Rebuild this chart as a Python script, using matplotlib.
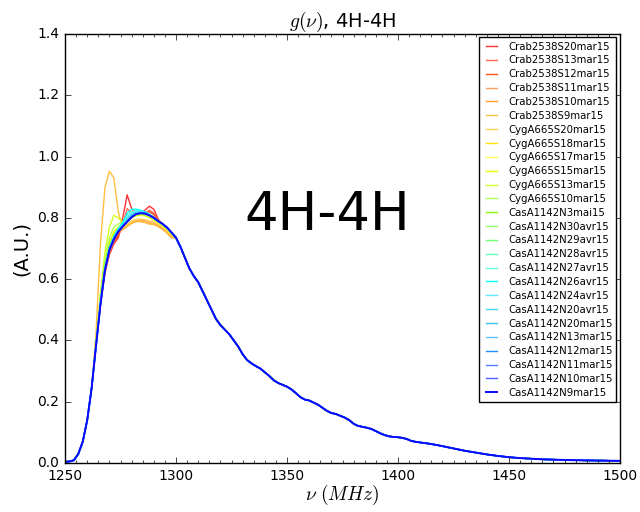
import matplotlib
matplotlib.use('Agg')
import matplotlib.pyplot as plt
from matplotlib.ticker import MultipleLocator

plt.style.use('classic')
plt.rcParams['figure.facecolor'] = 'white'
plt.rcParams['savefig.facecolor'] = 'white'

# shared rising edge (MHz, A.U.)
freq_rise = [1250, 1252, 1254, 1256, 1258, 1260, 1262]
g_rise = [0.004, 0.005, 0.009, 0.03, 0.07, 0.14, 0.245]

# peak region, different for every observation
freq_peak = [1264, 1266, 1268, 1270, 1272, 1274, 1276, 1278, 1280,
             1282, 1284, 1286, 1288, 1290, 1292, 1294, 1296, 1298]

# shared falling tail
freq_tail = [1300, 1302, 1304, 1306, 1308, 1310, 1312, 1314, 1316, 1318,
             1320, 1322, 1324, 1326, 1328, 1330, 1332, 1334, 1336, 1338,
             1340, 1342, 1344, 1346, 1348, 1350, 1352, 1354, 1356, 1358,
             1360, 1362, 1364, 1366, 1368, 1370, 1372, 1374, 1376, 1378,
             1380, 1382, 1384, 1386, 1388, 1390, 1392, 1394, 1396, 1398,
             1400, 1402, 1404, 1406, 1408, 1410, 1414, 1418, 1422, 1426,
             1430, 1435, 1440, 1445, 1450, 1455, 1460, 1465, 1470, 1475,
             1480, 1490, 1500]
g_tail = [0.735, 0.705, 0.67, 0.635, 0.61, 0.59, 0.56, 0.53, 0.50, 0.47,
          0.45, 0.435, 0.42, 0.40, 0.38, 0.355, 0.336, 0.325, 0.316, 0.308,
          0.296, 0.284, 0.27, 0.261, 0.255, 0.249, 0.24, 0.228, 0.215, 0.207,
          0.204, 0.197, 0.19, 0.18, 0.17, 0.163, 0.16, 0.154, 0.148, 0.14,
          0.128, 0.121, 0.118, 0.115, 0.111, 0.104, 0.097, 0.091, 0.087, 0.085,
          0.084, 0.082, 0.078, 0.072, 0.069, 0.067, 0.063, 0.058, 0.052, 0.046,
          0.040, 0.034, 0.028, 0.023, 0.019, 0.016, 0.014, 0.012, 0.011, 0.010,
          0.009, 0.008, 0.007]

labels = ['Crab2538S20mar15', 'Crab2538S13mar15', 'Crab2538S12mar15',
          'Crab2538S11mar15', 'Crab2538S10mar15', 'Crab2538S9mar15',
          'CygA665S20mar15', 'CygA665S18mar15', 'CygA665S17mar15',
          'CygA665S15mar15', 'CygA665S13mar15', 'CygA665S10mar15',
          'CasA1142N3mai15', 'CasA1142N30avr15', 'CasA1142N29avr15',
          'CasA1142N28avr15', 'CasA1142N27avr15', 'CasA1142N26avr15',
          'CasA1142N24avr15', 'CasA1142N20avr15', 'CasA1142N20mar15',
          'CasA1142N13mar15', 'CasA1142N12mar15', 'CasA1142N11mar15',
          'CasA1142N10mar15', 'CasA1142N9mar15']
colors = ['#ff3030', '#ff6a55', '#ff5020', '#ffa060', '#ffa020', '#ffc040',
          '#ffd050', '#ffe000', '#ffff50', '#f0ff00', '#d0ff20', '#b0ff50',
          '#80ff00', '#90ff70', '#70ff70', '#60ffb0', '#60ffe0', '#00ffff',
          '#60e8ff', '#40d8ff', '#40c0ff', '#60c0ff', '#2090ff', '#5080ff',
          '#5060ff', '#0a0aff']

peaks = [
    [0.385, 0.52, 0.62, 0.68, 0.715, 0.735, 0.80, 0.875, 0.83, 0.812, 0.815, 0.825, 0.838, 0.828, 0.795, 0.78, 0.768, 0.752],
    [0.385, 0.52, 0.625, 0.685, 0.72, 0.745, 0.78, 0.83, 0.815, 0.81, 0.812, 0.815, 0.825, 0.815, 0.79, 0.778, 0.765, 0.75],
    [0.385, 0.52, 0.625, 0.69, 0.725, 0.74, 0.775, 0.81, 0.81, 0.81, 0.81, 0.812, 0.82, 0.81, 0.79, 0.778, 0.765, 0.75],
    [0.39, 0.525, 0.635, 0.70, 0.735, 0.755, 0.765, 0.775, 0.785, 0.79, 0.792, 0.79, 0.785, 0.782, 0.776, 0.768, 0.755, 0.738],
    [0.39, 0.53, 0.64, 0.705, 0.74, 0.755, 0.762, 0.772, 0.782, 0.788, 0.788, 0.785, 0.78, 0.778, 0.772, 0.762, 0.75, 0.735],
    [0.43, 0.72, 0.90, 0.952, 0.93, 0.82, 0.765, 0.775, 0.785, 0.79, 0.79, 0.785, 0.78, 0.78, 0.775, 0.765, 0.75, 0.735],
    [0.39, 0.53, 0.645, 0.71, 0.745, 0.76, 0.768, 0.778, 0.79, 0.795, 0.796, 0.794, 0.79, 0.787, 0.78, 0.77, 0.758, 0.742],
    [0.39, 0.53, 0.645, 0.71, 0.745, 0.765, 0.78, 0.795, 0.805, 0.81, 0.81, 0.808, 0.802, 0.795, 0.785, 0.775, 0.763, 0.747],
    [0.39, 0.53, 0.64, 0.71, 0.745, 0.765, 0.778, 0.79, 0.80, 0.806, 0.808, 0.806, 0.80, 0.793, 0.784, 0.775, 0.763, 0.747],
    [0.39, 0.535, 0.65, 0.72, 0.755, 0.77, 0.78, 0.792, 0.802, 0.808, 0.81, 0.808, 0.802, 0.795, 0.786, 0.776, 0.764, 0.748],
    [0.40, 0.56, 0.69, 0.77, 0.808, 0.80, 0.785, 0.79, 0.80, 0.808, 0.81, 0.808, 0.802, 0.795, 0.786, 0.776, 0.764, 0.748],
    [0.395, 0.545, 0.665, 0.735, 0.77, 0.78, 0.785, 0.795, 0.805, 0.81, 0.812, 0.81, 0.804, 0.796, 0.787, 0.777, 0.765, 0.749],
    [0.39, 0.53, 0.645, 0.71, 0.745, 0.765, 0.778, 0.792, 0.805, 0.812, 0.815, 0.813, 0.807, 0.799, 0.788, 0.778, 0.766, 0.75],
    [0.39, 0.53, 0.64, 0.705, 0.742, 0.763, 0.778, 0.793, 0.806, 0.813, 0.815, 0.813, 0.807, 0.799, 0.788, 0.778, 0.766, 0.75],
    [0.388, 0.527, 0.638, 0.703, 0.74, 0.762, 0.779, 0.797, 0.81, 0.817, 0.818, 0.815, 0.808, 0.80, 0.789, 0.779, 0.767, 0.751],
    [0.387, 0.525, 0.637, 0.702, 0.738, 0.762, 0.78, 0.80, 0.815, 0.822, 0.822, 0.818, 0.81, 0.80, 0.79, 0.78, 0.768, 0.752],
    [0.387, 0.525, 0.637, 0.702, 0.738, 0.763, 0.782, 0.806, 0.82, 0.824, 0.823, 0.819, 0.811, 0.801, 0.79, 0.78, 0.768, 0.752],
    [0.387, 0.525, 0.637, 0.702, 0.74, 0.765, 0.785, 0.815, 0.828, 0.828, 0.825, 0.82, 0.812, 0.802, 0.79, 0.78, 0.768, 0.752],
    [0.386, 0.523, 0.634, 0.70, 0.736, 0.76, 0.778, 0.80, 0.816, 0.822, 0.821, 0.817, 0.81, 0.80, 0.789, 0.779, 0.767, 0.751],
    [0.386, 0.522, 0.633, 0.699, 0.735, 0.758, 0.776, 0.795, 0.81, 0.818, 0.819, 0.816, 0.809, 0.80, 0.789, 0.779, 0.767, 0.751],
    [0.386, 0.522, 0.632, 0.698, 0.733, 0.757, 0.775, 0.792, 0.807, 0.815, 0.817, 0.815, 0.809, 0.80, 0.789, 0.779, 0.767, 0.751],
    [0.385, 0.521, 0.631, 0.697, 0.732, 0.756, 0.774, 0.79, 0.805, 0.814, 0.816, 0.815, 0.808, 0.80, 0.789, 0.779, 0.767, 0.751],
    [0.385, 0.52, 0.63, 0.696, 0.731, 0.756, 0.773, 0.789, 0.804, 0.813, 0.816, 0.815, 0.808, 0.80, 0.789, 0.78, 0.768, 0.752],
    [0.385, 0.52, 0.63, 0.695, 0.73, 0.755, 0.772, 0.788, 0.803, 0.812, 0.815, 0.814, 0.808, 0.80, 0.789, 0.78, 0.768, 0.752],
    [0.385, 0.52, 0.63, 0.695, 0.73, 0.755, 0.772, 0.787, 0.802, 0.812, 0.815, 0.814, 0.808, 0.80, 0.789, 0.78, 0.768, 0.752],
    [0.385, 0.52, 0.63, 0.695, 0.73, 0.755, 0.772, 0.787, 0.802, 0.812, 0.815, 0.814, 0.808, 0.80, 0.789, 0.78, 0.768, 0.752],
]

fig = plt.figure(figsize=(6.4, 5.12), dpi=100)
ax = fig.add_axes([0.1016, 0.0957, 0.8672, 0.838])

freq = freq_rise + freq_peak + freq_tail
for i in range(len(labels)):
    g = g_rise + peaks[i] + g_tail
    lw = 1.4 if i == len(labels) - 1 else 1.0
    ax.plot(freq, g, color=colors[i], linewidth=lw, label=labels[i])

ax.set_xlim(1250, 1500)
ax.set_ylim(0, 1.4)
ax.xaxis.set_minor_locator(MultipleLocator(5))
ax.tick_params(labelsize=10)
ax.set_title(r'$g(\nu)$, 4H-4H', fontsize=14)
ax.set_xlabel(r'$\nu\ (MHz)$', fontsize=14, labelpad=0)
ax.set_ylabel('(A.U.)', fontsize=14)
ax.text(0.473, 0.578, '4H-4H', fontsize=38, ha='center', va='center',
        transform=ax.transAxes)
ax.legend(loc='upper right', fontsize=7.3, labelspacing=0.38,
          borderaxespad=0.35, handlelength=1.7)

fig.savefig('out.png', dpi=100)
